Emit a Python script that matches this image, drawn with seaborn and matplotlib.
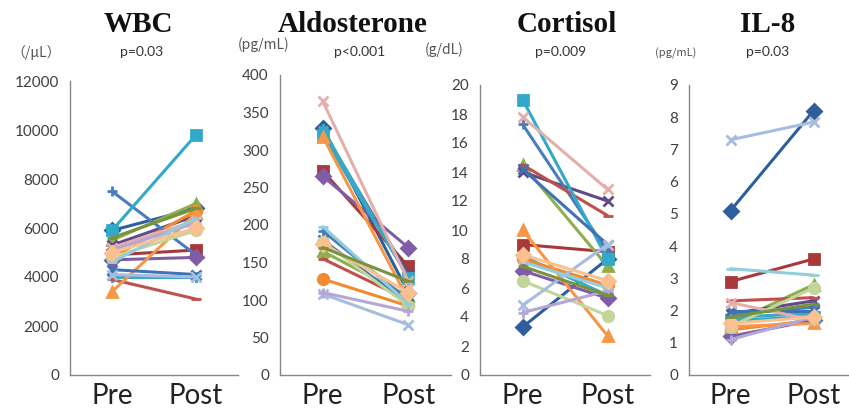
import matplotlib
matplotlib.use('Agg')
import matplotlib.pyplot as plt
import seaborn as sns

sns.set_style('white')
plt.rcParams['font.family'] = ['Lato', 'DejaVu Sans']

# Pre / Post values, one entry per subject (same subject order in every panel)
times = ['Pre', 'Post']

wbc_pre = [5900, 4900, 5500, 5300, 4000, 4800, 7500, 3900, 4700, 5900,
           3400, 4300, 5200, 4800, 4100, 5100, 4600, 5000, 5600]
wbc_post = [6800, 5100, 7000, 6500, 4000, 6700, 4900, 3100, 4800, 9800,
            6600, 4100, 6300, 5900, 4000, 6200, 6400, 6000, 6800]

aldo_pre = [330, 272, 165, 325, 328, 128, 192, 155, 265, 320,
            318, 180, 365, 178, 108, 110, 198, 175, 170]
aldo_post = [110, 145, 105, 135, 130, 92, 100, 100, 170, 130,
             100, 95, 125, 92, 67, 85, 95, 110, 125]

cort_pre = [3.3, 9.0, 14.5, 14.0, 8.2, 8.0, 17.3, 14.5, 7.2, 19.0,
            10.0, 14.2, 17.8, 6.5, 4.8, 4.3, 7.8, 8.3, 7.5]
cort_post = [8.0, 8.5, 7.5, 12.0, 5.5, 6.2, 8.5, 11.0, 5.3, 8.0,
             2.7, 9.0, 12.8, 4.1, 9.0, 5.8, 6.0, 6.5, 5.5]

il8_pre = [5.1, 2.9, 1.6, 1.9, 1.8, 1.4, 1.9, 2.3, 1.2, 1.7,
           1.5, 2.0, 2.25, 1.5, 7.3, 1.1, 3.3, 1.6, 1.8]
il8_post = [8.2, 3.6, 2.8, 2.3, 1.9, 1.7, 2.1, 2.4, 1.7, 1.8,
            1.6, 2.0, 1.7, 2.7, 7.85, 1.8, 3.1, 1.8, 2.2]

titles = ['WBC', 'Aldosterone', 'Cortisol', 'IL-8']
units = ['（/μL）', '(pg/mL)', '(g/dL)', '(pg/mL)']
pvals = ['p=0.03', 'p<0.001', 'p=0.009', 'p=0.03']

# Excel-like series styles
colors = ['#2F5E9E', '#A8393A', '#8DB04A', '#5F4A8B', '#3BA8C4', '#F28B2F',
          '#4A7EBB', '#C0504D', '#7E5DA6', '#33A9C9', '#F79646', '#3F72B4',
          '#E4AFAA', '#C2D69B', '#A7BDE0', '#B4A7D6', '#92CDDC', '#FAC08F',
          '#77933C']
markers = ['D', 's', '^', 'x', (6, 2, 0), 'o', '+', '_', 'D', 's',
           '^', 'x', 'x', 'o', 'x', '+', '_', 'D', '_']

W, H = 849, 413
fig = plt.figure(figsize=(W / 100, H / 100), dpi=100)


def px_axes(l, r, t, b):
    return fig.add_axes([l / W, 1 - b / H, (r - l) / W, (b - t) / H])


panels = [
    (wbc_pre, wbc_post, (70, 238, 81, 375), 12000, 2000),
    (aldo_pre, aldo_post, (280, 451, 75, 375), 400, 50),
    (cort_pre, cort_post, (480, 650, 85, 375), 20, 2),
    (il8_pre, il8_post, (689, 855, 85, 375), 9, 1),
]

for pre, post, box, ymax, step in panels:
    ax = px_axes(*box)
    for i in range(len(pre)):
        m = markers[i]
        sns.lineplot(x=times, y=[pre[i], post[i]], ax=ax, color=colors[i],
                     marker=m, markersize=7.5, linewidth=2.2,
                     markeredgecolor=colors[i], markeredgewidth=2,
                     sort=False)
    ax.set_xlim(-0.5, 1.5)
    ax.set_ylim(0, ymax)
    ax.set_yticks(range(0, ymax + 1, step))
    ax.set_xticks([0, 1])
    ax.set_xticklabels(times, fontsize=20, color='#222222')
    ax.set_xticks([-0.5, 0.5, 1.5], minor=True)
    ax.tick_params(axis='x', which='major', length=0, pad=6)
    ax.tick_params(axis='x', which='minor', length=5, color='#868686', width=1)
    ax.tick_params(axis='y', length=5, color='#868686', width=1,
                   labelsize=11, labelcolor='#404040', pad=3)
    ax.set_xlabel('')
    ax.set_ylabel('')
    for s in ['top', 'right']:
        ax.spines[s].set_visible(False)
    for s in ['left', 'bottom']:
        ax.spines[s].set_color('#868686')
        ax.spines[s].set_linewidth(1)

# titles, p-values and units (pixel positions)
title_x = [138, 353, 567, 768]
pval_x = [142, 360, 561, 768]
unit_x = [36, 264, 444, 676]
unit_y = [53, 45, 50, 53]
unit_size = [10, 10, 10, 8]
for i in range(4):
    fig.text(title_x[i] / W, 1 - 25 / H, titles[i], ha='center', va='center',
             fontsize=21, fontweight='bold', family='Liberation Serif',
             color='#111111')
    fig.text(pval_x[i] / W, 1 - 52 / H, pvals[i], ha='center', va='center',
             fontsize=10, color='#333333')
    fig.text(unit_x[i] / W, 1 - unit_y[i] / H, units[i], ha='center',
             va='center', fontsize=unit_size[i], color='#555555',
             family=['Noto Sans CJK JP', 'DejaVu Sans'])

fig.savefig('out.png', dpi=100)
